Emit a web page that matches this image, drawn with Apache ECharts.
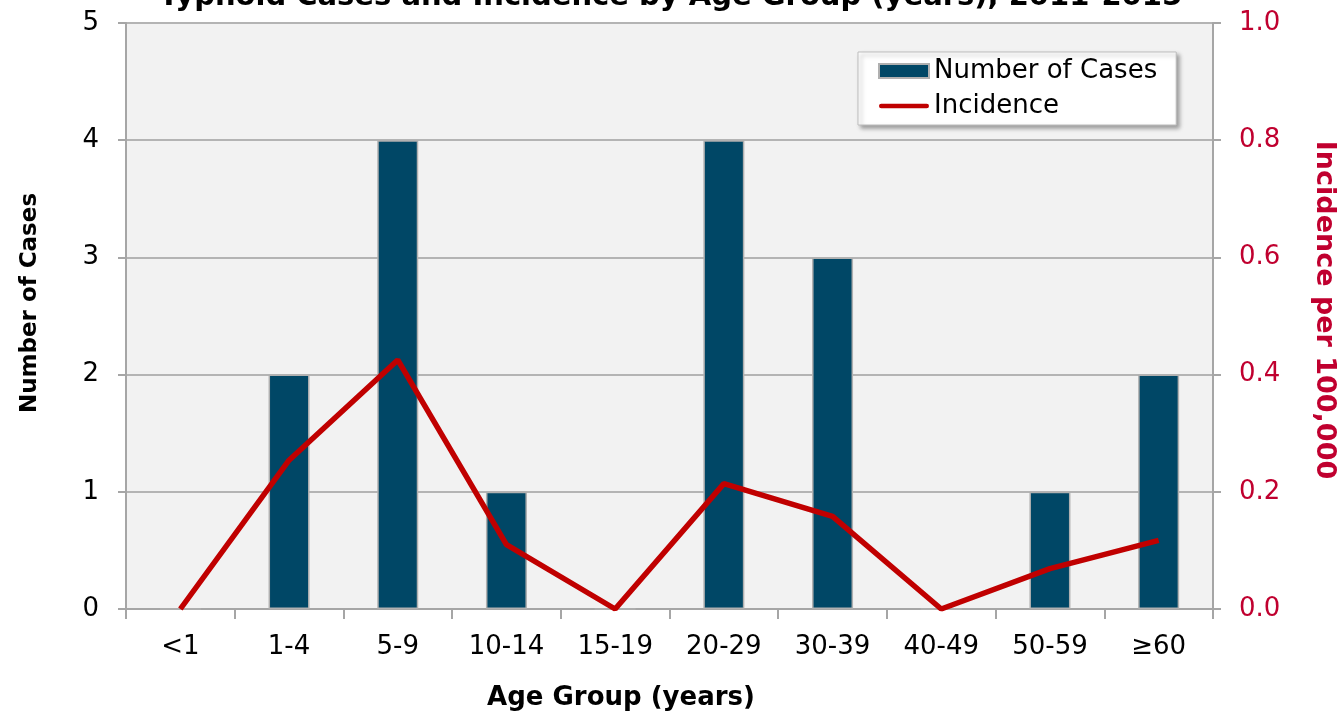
<!DOCTYPE html>
<html>
<head>
<meta charset="utf-8">
<script src="https://cdn.jsdelivr.net/npm/echarts@6/dist/echarts.min.js"></script>
<style>
  html, body { margin: 0; padding: 0; background: #fff; }
  #chart { width: 1341px; height: 715px; }
</style>
</head>
<body>
<div id="chart"></div>
<script>
// Age groups and annual figures
const ageGroups = ['<1', '1-4', '5-9', '10-14', '15-19', '20-29', '30-39', '40-49', '50-59', '\u226560'];
const caseCounts = [0, 2, 4, 1, 0, 4, 3, 0, 1, 2];
const incidence = [0, 0.254, 0.425, 0.11, 0, 0.214, 0.158, 0, 0.069, 0.117];
const caseTicks = { min: 0, max: 5, interval: 1 };
const rateTicks = { min: 0, max: 1, interval: 0.2 };

const FONT = '"DejaVu Sans", Verdana, sans-serif';
const GRID_COLOR = '#b4b4b4';
const AXIS_COLOR = '#a6a6a6';
const RED = '#c00000';
const RATE_TEXT = '#c0002f';

const chart = echarts.init(document.getElementById('chart'));
chart.setOption({
  animation: false,
  title: {
    text: 'Typhoid Cases and Incidence by Age Group (years), 2011-2015',
    left: 'center',
    top: -22,
    textStyle: { fontFamily: FONT, fontSize: 29, fontWeight: 'bold', color: '#000' }
  },
  grid: {
    left: 126, right: 128, top: 23, bottom: 106,
    show: true, backgroundColor: '#f2f2f2', borderWidth: 0
  },
  legend: {
    orient: 'vertical',
    left: 858, top: 52,
    padding: [4, 19, 4, 20],
    itemGap: 5,
    itemWidth: 50,
    itemHeight: 14,
    symbolKeepAspect: true,
    backgroundColor: '#fff',
    borderColor: '#bdbdbd',
    borderWidth: 1,
    shadowColor: 'rgba(0,0,0,0.35)',
    shadowBlur: 4,
    shadowOffsetX: 3,
    shadowOffsetY: 3,
    textStyle: { fontFamily: FONT, fontSize: 26, color: '#000', lineHeight: 30 },
    data: [
      { name: 'Number of Cases', icon: 'rect' },
      { name: 'Incidence', icon: 'path://M2.5,0 H52.5 A2.5,2.5 0 0 1 52.5,5 H2.5 A2.5,2.5 0 0 1 2.5,0 Z' }
    ]
  },
  xAxis: {
    type: 'category',
    data: ageGroups,
    axisLine: { lineStyle: { color: AXIS_COLOR, width: 2 } },
    axisTick: { show: true, length: 10, lineStyle: { color: AXIS_COLOR, width: 2 } },
    axisLabel: { fontFamily: FONT, fontSize: 26, color: '#000', margin: 25 },
    splitLine: { show: false }
  },
  yAxis: [
    {
      type: 'value',
      min: caseTicks.min, max: caseTicks.max, interval: caseTicks.interval,
      axisLine: { show: true, lineStyle: { color: AXIS_COLOR, width: 2 } },
      axisTick: { show: true, length: 8, lineStyle: { color: AXIS_COLOR, width: 2 } },
      axisLabel: { fontFamily: FONT, fontSize: 26, color: '#000', margin: 27 },
      splitLine: { show: true, lineStyle: { color: GRID_COLOR, width: 2 } }
    },
    {
      type: 'value',
      position: 'right',
      min: rateTicks.min, max: rateTicks.max, interval: rateTicks.interval,
      axisLine: { show: true, lineStyle: { color: AXIS_COLOR, width: 2 } },
      axisTick: { show: true, length: 8, lineStyle: { color: AXIS_COLOR, width: 2 } },
      axisLabel: {
        fontFamily: FONT, fontSize: 26, color: RATE_TEXT, margin: 26,
        formatter: v => v.toFixed(1)
      },
      splitLine: { show: false }
    }
  ],
  // Axis titles placed as free text
  graphic: [
    {
      type: 'text', x: 621, y: 698,
      style: {
        text: 'Age Group (years)', font: 'bold 26px ' + FONT, fill: '#000',
        textAlign: 'center', textVerticalAlign: 'middle', align: 'center', verticalAlign: 'middle'
      }
    },
    {
      type: 'text', x: 30, y: 303, rotation: Math.PI / 2,
      style: {
        text: 'Number of Cases', font: 'bold 23px ' + FONT, fill: '#000',
        textAlign: 'center', textVerticalAlign: 'middle', align: 'center', verticalAlign: 'middle'
      }
    },
    {
      type: 'text', x: 1324, y: 310, rotation: -Math.PI / 2,
      style: {
        text: 'Incidence per 100,000', font: 'bold 27px ' + FONT, fill: RATE_TEXT,
        textAlign: 'center', textVerticalAlign: 'middle', align: 'center', verticalAlign: 'middle'
      }
    }
  ],
  series: [
    {
      name: 'Number of Cases',
      type: 'bar',
      yAxisIndex: 0,
      data: caseCounts,
      barWidth: 41,
      itemStyle: { color: '#004766', borderColor: '#b0b0b0', borderWidth: 1.5 }
    },
    {
      name: 'Incidence',
      type: 'line',
      yAxisIndex: 1,
      data: incidence,
      symbol: 'none',
      lineStyle: { color: RED, width: 5.5 },
      itemStyle: { color: RED },
      z: 5
    }
  ]
});
</script>
</body>
</html>
